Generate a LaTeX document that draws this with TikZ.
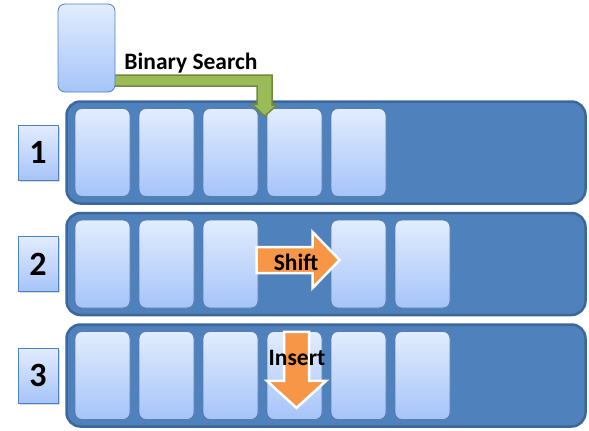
\documentclass[tikz,border=0pt]{standalone}
\usepackage{fontspec}
\setmainfont{Carlito}
\usepackage{tikz}
\usetikzlibrary{
  calc,
  shadows
}
\definecolor{SortBand}{HTML}{4F81BD}
\definecolor{SortBandLine}{HTML}{3B679B}
\definecolor{SortCardTop}{HTML}{E2ECFD}
\definecolor{SortCardBot}{HTML}{A6C4F9}
\definecolor{SortOrange}{HTML}{F79646}
\definecolor{SortGreen}{HTML}{9BBB59}
\definecolor{SortGreenLine}{HTML}{71893F}

\begin{document}
\begin{tikzpicture}[
  x=1pt,y=-1pt,
  band/.style={draw=SortBandLine,line width=2.5pt,fill=SortBand,rounded corners=14pt,
    minimum width=519pt,minimum height=102pt,inner sep=0pt,outer sep=0pt},
  card/.style={draw=SortBandLine!85,line width=0.8pt,rounded corners=7pt,
    top color=SortCardTop,bottom color=SortCardBot,
    minimum width=55pt,minimum height=88pt,inner sep=0pt},
  rowno/.style={draw=SortBand,line width=0.8pt,top color=SortCardTop,bottom color=SortCardBot,
    minimum width=40pt,minimum height=55pt,inner sep=0pt,
    font=\fontsize{34}{38}\selectfont\bfseries,
    drop shadow={opacity=0.3,shadow xshift=1.5pt,shadow yshift=-1.5pt}},
  tag/.style={font=\fontsize{23.5}{27}\selectfont\bfseries,inner sep=0pt},
  binarrow/.style={fill=SortGreen,draw=SortGreenLine,line width=1.5pt,line join=miter},
  blockarrow/.style={fill=SortOrange,draw=white,line width=2.5pt,line join=miter}
]
\useasboundingbox (0,0) rectangle (589,431);
% rows with their cards
\foreach \r/\y/\cols in {1/152.5/{1,2,3,4,5},2/264/{1,2,3,5,6},3/375.5/{1,2,3,4,5,6}}{
  \node[band] (row\r) at (326,\y) {};
  \node[rowno] (no\r) at (38,\y) {\r};
  \foreach \c in \cols
    \node[card] (c\r\c) at (102.5+64*\c-64,\y) {};
}
% binary search probe
\coordinate (probepos) at (86.5,48);
\coordinate (bstip) at ($(c14.north west)+(-2,8)$);
\draw[binarrow] (probepos) ++(0,27) -- ++(185.5,0) -- ++(0,30) -- ++(5,0)
  -- (bstip) -- ++(-12.5,-12) -- ++(5,0) -- ++(0,-18) -- ++(-171,0) -- cycle;
\node[card,draw=SortBand,minimum width=57pt] (probe) at (probepos) {};
\node[tag] (bslabel) at (191,63) {Binary Search};
% shift and insert
\coordinate (shiftpos) at ($(c25.west)+(9,-4)$);
\draw[blockarrow] (shiftpos) -- ++(-27,-28) -- ++(0,15) -- ++(-56,0) -- ++(0,26)
  -- ++(56,0) -- ++(0,15) -- cycle;
\node[tag] (shiftlabel) at (296,262) {Shift};
\coordinate (inspos) at ($(c34.south)+(2,-12)$);
\draw[blockarrow] (inspos) -- ++(-29.5,-27) -- ++(17,0) -- ++(0,-49) -- ++(25,0)
  -- ++(0,49) -- ++(17,0) -- cycle;
\node[tag] (inslabel) at (297,358) {Insert};
\end{tikzpicture}
\end{document}
